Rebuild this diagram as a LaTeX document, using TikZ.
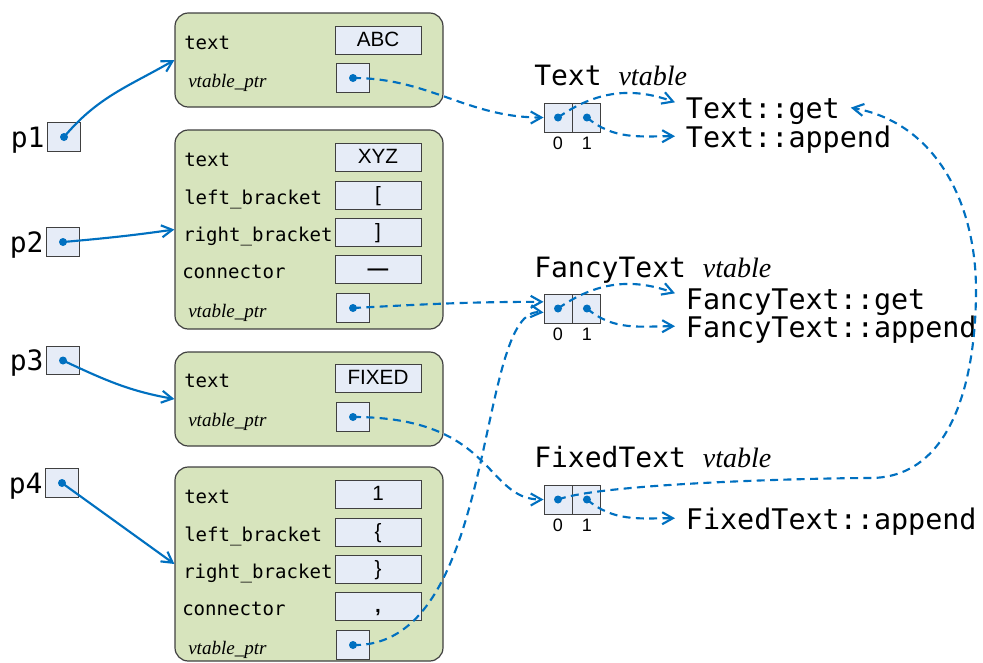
\documentclass[tikz,border=0pt]{standalone}
\usepackage{fontspec}
\setmainfont{Liberation Serif}
\setsansfont{Liberation Sans}
\setmonofont{DejaVu Sans Mono}
\usetikzlibrary{arrows.meta, positioning}

\definecolor{ptrblue}{RGB}{0,112,192}
\definecolor{objgreen}{RGB}{215,228,189}
\definecolor{cellblue}{RGB}{230,236,247}
\definecolor{edgegray}{RGB}{64,64,64}

\begin{document}
\begin{tikzpicture}[
    x=0.75pt, y=-0.75pt,
    object/.style={
        rectangle,
        draw=edgegray,
        fill=objgreen,
        rounded corners=10pt,
        line width=0.9pt,
        minimum width=201pt
    },
    valbox/.style={
        rectangle,
        draw=edgegray,
        fill=cellblue,
        line width=0.7pt,
        minimum width=64.5pt,
        minimum height=21pt,
        inner sep=0pt,
        text height=12pt,
        text depth=2pt,
        font=\sffamily\fontsize{15.5}{18}\selectfont
    },
    ptrbox/.style={
        rectangle,
        draw=edgegray,
        fill=cellblue,
        line width=0.7pt,
        minimum width=25pt,
        minimum height=21.5pt,
        inner sep=0pt
    },
    vslot/.style={
        ptrbox,
        minimum width=21pt,
        minimum height=21.75pt
    },
    fieldname/.style={
        anchor=base west,
        inner sep=0pt,
        font=\ttfamily\fontsize{14.3}{17}\selectfont
    },
    vptrname/.style={
        anchor=base west,
        inner sep=0pt,
        font=\rmfamily\itshape\fontsize{14.3}{17}\selectfont
    },
    varname/.style={
        inner sep=1.5pt,
        text depth=0pt,
        font=\ttfamily\fontsize{21}{25}\selectfont
    },
    method/.style={
        anchor=base west,
        inner xsep=8pt,
        inner ysep=1pt,
        text depth=0pt,
        font=\ttfamily\fontsize{21.3}{25}\selectfont
    },
    vthead/.style={
        anchor=base west,
        inner sep=0pt,
        font=\ttfamily\fontsize{21}{25}\selectfont
    },
    idxlabel/.style={
        inner sep=1pt,
        font=\sffamily\fontsize{13.5}{16}\selectfont
    },
    ptrlink/.style={
        draw=ptrblue,
        line width=1.6pt,
        -{Straight Barb[length=8pt,width=9pt]}
    },
    vlink/.style={
        ptrlink,
        dash pattern=on 6pt off 4pt
    }
]
    \useasboundingbox (0,0) rectangle (983,662);

    % --- Pointer variables ---
    \node[ptrbox] (p1) at (64,137) {};
    \node[varname, left=0pt of p1] (p1name) {p1};
    \node[ptrbox] (p2) at (63,242) {};
    \node[varname, left=0pt of p2] (p2name) {p2};
    \node[ptrbox] (p3) at (63,360.5) {};
    \node[varname, left=0pt of p3] (p3name) {p3};
    \node[ptrbox] (p4) at (62,483) {};
    \node[varname, left=0pt of p4] (p4name) {p4};

    % --- Objects ---

    % Text object
    \node[object, minimum height=70.5pt] (obj1) at (309,60) {};
    \node[fieldname] (obj1textname) at (184,49) {text};
    \node[valbox] (obj1text) at (378,40) {ABC};
    \node[vptrname] (obj1vpname) at (188,87) {vtable\_ptr};
    \node[ptrbox] (obj1vp) at (353,78) {};

    % FancyText object
    \node[object, minimum height=149.25pt] (obj2) at (309,229.5) {};
    \node[fieldname] (obj2textname) at (184,166) {text};
    \node[valbox] (obj2text) at (378,157) {XYZ};
    \node[fieldname] (obj2leftname) at (184,204) {left\_bracket};
    \node[valbox] (obj2left) at (378,195) {[};
    \node[fieldname] (obj2rightname) at (183,241) {right\_bracket};
    \node[valbox] (obj2right) at (378,232) {]};
    \node[fieldname] (obj2connname) at (182,278) {connector};
    \node[valbox, font=\sffamily\bfseries\fontsize{15.5}{18}\selectfont] (obj2conn) at (378,269) {—};
    \node[vptrname] (obj2vpname) at (188,317) {vtable\_ptr};
    \node[ptrbox] (obj2vp) at (353,308) {};

    % FixedText object
    \node[object, minimum height=70.5pt] (obj3) at (309,399) {};
    \node[fieldname] (obj3textname) at (184,387) {text};
    \node[valbox] (obj3text) at (378,378) {FIXED};
    \node[vptrname] (obj3vpname) at (188,426) {vtable\_ptr};
    \node[ptrbox] (obj3vp) at (353,417) {};

    % second FancyText object
    \node[object, minimum height=145.5pt] (obj4) at (309,564) {};
    \node[fieldname] (obj4textname) at (184,503) {text};
    \node[valbox] (obj4text) at (378,494) {1};
    \node[fieldname] (obj4leftname) at (184,541) {left\_bracket};
    \node[valbox] (obj4left) at (378,532) {\{};
    \node[fieldname] (obj4rightname) at (183,578) {right\_bracket};
    \node[valbox] (obj4right) at (378,569) {\}};
    \node[fieldname] (obj4connname) at (182,615) {connector};
    \node[valbox, font=\sffamily\bfseries\fontsize{15.5}{18}\selectfont] (obj4conn) at (378,606) {,};
    \node[vptrname] (obj4vpname) at (188,654) {vtable\_ptr};
    \node[ptrbox] (obj4vp) at (353,645) {};

    % --- Vtables ---
    \node[vthead] (texthead) at (534,85) {Text {\rmfamily\itshape\fontsize{21}{24}\selectfont vtable}};
    \node[vslot] (t0) at (558,117.5) {};
    \node[vslot, right=0pt of t0] (t1) {};
    \node[idxlabel, below=2.5pt of t0] (t0idx) {0};
    \node[idxlabel, below=2.5pt of t1] (t1idx) {1};
    \node[method] (tg) at (675,118) {Text::get};
    \node[method] (ta) at (675,147) {Text::append};

    \node[vthead] (fancyhead) at (534,277) {FancyText {\rmfamily\itshape\fontsize{21}{24}\selectfont vtable}};
    \node[vslot] (f0) at (558,308.5) {};
    \node[vslot, right=0pt of f0] (f1) {};
    \node[idxlabel, below=2.5pt of f0] (f0idx) {0};
    \node[idxlabel, below=2.5pt of f1] (f1idx) {1};
    \node[method] (fg) at (675,309) {FancyText::get};
    \node[method] (fa) at (675,337) {FancyText::append};

    \node[vthead] (fixedhead) at (534,467) {FixedText {\rmfamily\itshape\fontsize{21}{24}\selectfont vtable}};
    \node[vslot] (x0) at (558,499.5) {};
    \node[vslot, right=0pt of x0] (x1) {};
    \node[idxlabel, below=2.5pt of x0] (x0idx) {0};
    \node[idxlabel, below=2.5pt of x1] (x1idx) {1};
    \node[method] (xa) at (675,529) {FixedText::append};

    % --- Connections ---

    % pointers to objects
    \draw[ptrlink] (p1.center) to[out=50,in=210] (obj1.west);
    \draw[ptrlink] (p2.center) to[out=5,in=188] (obj2.west);
    \draw[ptrlink] (p3.center) to[out=-25,in=170] (obj3.west);
    \draw[ptrlink] (p4.center) -- (obj4.west);

    % vtable pointers
    \draw[vlink] (obj1vp.center) to[out=0,in=180] (t0.west);
    \draw[vlink] (obj2vp.center) to[out=3,in=180] ([yshift=5pt]f0.west);
    \draw[vlink] (obj3vp.center) .. controls +(142,0) and +(-59,0) .. (x0.west);
    \draw[vlink] (obj4vp.center) .. controls +(147,3) and +(-69,-7) .. ([yshift=-3pt]f0.west);

    % vtable slots to methods
    \draw[vlink] (t0.center) to[out=35,in=160] ([yshift=4pt]tg.west);
    \draw[vlink] (t1.center) to[out=-40,in=180] (ta.west);
    \draw[vlink] (f0.center) to[out=35,in=160] ([yshift=4pt]fg.west);
    \draw[vlink] (f1.center) to[out=-40,in=180] (fa.west);
    \draw[vlink] (x1.center) to[out=-40,in=180] (xa.west);

    % inherited Text::get
    \coordinate (loopa) at (870,478);
    \coordinate (loopb) at (976,290);
    \draw[vlink] (x0.center) to[out=20,in=180,looseness=0.4] (loopa)
        to[out=0,in=-90] (loopb) to[out=90,in=-10] (tg.east);

    % dots
    \foreach \d in {p1,p2,p3,p4,obj1vp,obj2vp,obj3vp,obj4vp,t0,t1,f0,f1,x0,x1}
        \fill[ptrblue] (\d.center) circle (3pt);

\end{tikzpicture}
\end{document}
